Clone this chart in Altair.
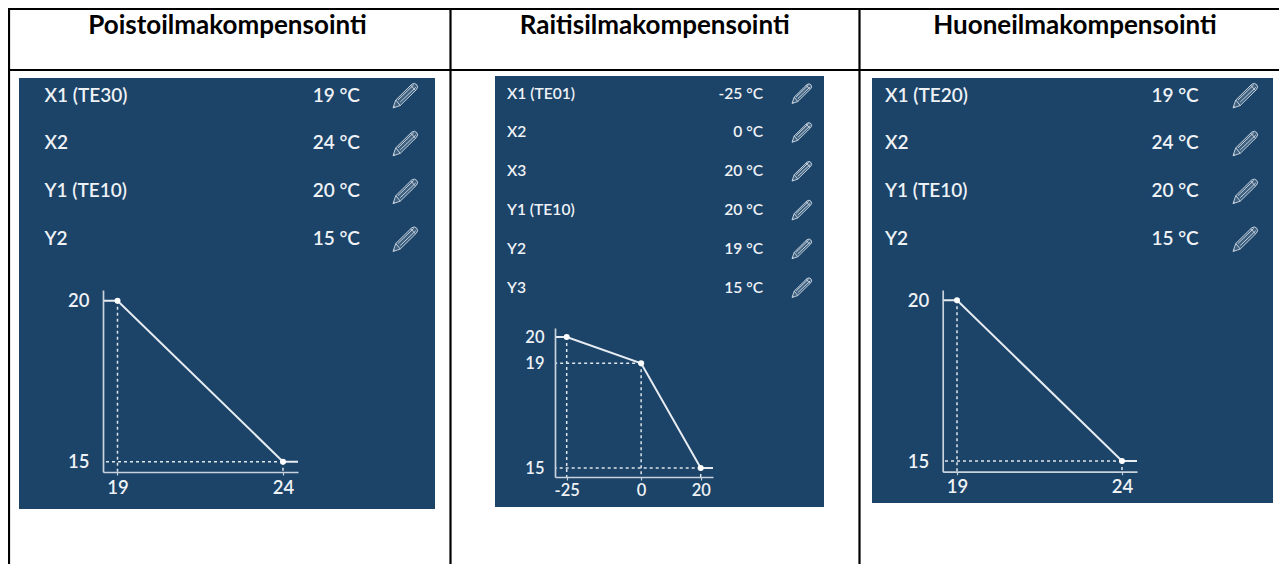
import altair as alt
import pandas as pd

# ---------- chart content ----------
titles = ["Poistoilmakompensointi", "Raitisilmakompensointi", "Huoneilmakompensointi"]

labels_1 = ["X1 (TE30)", "X2", "Y1 (TE10)", "Y2"]
values_1 = ["19 °C", "24 °C", "20 °C", "15 °C"]
curve_x_1 = [19, 24]
curve_y_1 = [20, 15]

labels_2 = ["X1 (TE01)", "X2", "X3", "Y1 (TE10)", "Y2", "Y3"]
values_2 = ["-25 °C", "0 °C", "20 °C", "20 °C", "19 °C", "15 °C"]
curve_x_2 = [-25, 0, 20]
curve_y_2 = [20, 19, 15]

labels_3 = ["X1 (TE20)", "X2", "Y1 (TE10)", "Y2"]
values_3 = ["19 °C", "24 °C", "20 °C", "15 °C"]
curve_x_3 = [19, 24]
curve_y_3 = [20, 15]

# ---------- layout (page pixels) ----------
M = 8
W, H = 1287, 574
NAVY = "#1c4368"
TEXT = "#eef2f6"
AXIS = "#c9d3dd"
FONT = "Lato"
PENCIL = ("M-1 1L-0.78 0.36L0.5 -0.9Q0.72 -1.06 0.9 -0.86Q1.06 -0.66 0.86 -0.46L-0.42 0.8Z"
          "M-0.78 0.36L-0.42 0.8M-0.95 0.85L-0.85 0.92"
          "M-0.6 0.36L0.66 -0.86M-0.42 0.52L0.82 -0.66M0.42 -0.82L0.78 -0.42")

panels = [
    dict(title=titles[0], tx=227.5, labels=labels_1, values=values_1, cx=curve_x_1, cy=curve_y_1,
         box=(19, 435, 78, 509), row_x=44.5, val_x=360, pen_x=405.5, rows=(95.5, 239), pen=25, fs=19,
         left=103, right=298, top=290, bottom=472, x_px=(117.5, 283), y_px=(300.7, 461.7),
         tick_fs=18.5, lab_pad=14, x_pad=3),
    dict(title=titles[1], tx=654.7, labels=labels_2, values=values_2, cx=curve_x_2, cy=curve_y_2,
         box=(495, 824, 76, 507), row_x=507, val_x=763, pen_x=802, rows=(93.5, 287.5), pen=20, fs=15.6,
         left=555, right=713, top=328, bottom=477, x_px=(566.7, 700.7), y_px=(337, 468),
         tick_fs=16.5, lab_pad=11, x_pad=2),
    dict(title=titles[2], tx=1075, labels=labels_3, values=values_3, cx=curve_x_3, cy=curve_y_3,
         box=(872, 1273, 78, 503), row_x=885, val_x=1198.7, pen_x=1245.5, rows=(95.5, 239), pen=25, fs=19,
         left=942.7, right=1137, top=290, bottom=471.7, x_px=(957, 1122), y_px=(300.3, 461),
         tick_fs=18.5, lab_pad=14, x_pad=3),
]

PW, PH = W - 2 * M, H - 2 * M - 2
dummy = pd.DataFrame({"k": [0]})
layers = []

# table grid
for xa in (M + 1, 450.5, 859.5):
    layers.append(alt.Chart(dummy).mark_rule(color="#000000", strokeWidth=2.2).encode(
        x=alt.value(xa - M), y=alt.value(0), y2=alt.value(PH)))
for ya in (M + 1, 70):
    layers.append(alt.Chart(dummy).mark_rule(color="#000000", strokeWidth=2.2).encode(
        y=alt.value(ya - M), x=alt.value(0), x2=alt.value(PW)))

for p in panels:
    l, r, t, b = p["box"]
    layers.append(alt.Chart(dummy).mark_rect(color=NAVY, opacity=1).encode(
        x=alt.value(l - M), x2=alt.value(r - M), y=alt.value(t - M), y2=alt.value(b - M)))

    layers.append(alt.Chart(pd.DataFrame({"t": [p["title"]]})).mark_text(
        font=FONT, fontSize=26, fontWeight="bold", color="#000000", align="center", baseline="middle"
    ).encode(x=alt.value(p["tx"] - M), y=alt.value(25.5 - M), text="t:N"))

    rows = pd.DataFrame({"label": p["labels"], "value": p["values"]})
    row_scale = alt.Scale(type="point", domain=p["labels"], padding=0,
                          range=[p["rows"][0] - M, p["rows"][1] - M])
    pen_scale = alt.Scale(type="point", domain=p["labels"], padding=0,
                          range=[p["rows"][0] - M, p["rows"][1] - M])
    text_mark = dict(font=FONT, fontSize=p["fs"], fontWeight=600, color=TEXT, baseline="middle")
    layers.append(alt.Chart(rows).mark_text(align="left", **text_mark).encode(
        x=alt.value(p["row_x"] - M), y=alt.Y("label:N", scale=row_scale, axis=None), text="label:N"))
    layers.append(alt.Chart(rows).mark_text(align="right", **text_mark).encode(
        x=alt.value(p["val_x"] - M), y=alt.Y("label:N", scale=row_scale, axis=None), text="value:N"))
    layers.append(alt.Chart(rows).mark_point(
        shape=PENCIL, size=p["pen"] ** 2, filled=True, fill="#7f97ad", fillOpacity=0.35,
        stroke="#d3dde6", strokeWidth=0.9, opacity=1
    ).encode(x=alt.value(p["pen_x"] - M), y=alt.Y("label:N", scale=pen_scale, axis=None)))

    # scales of the little curve chart: the axis lines span the full scale range
    cx, cy = p["cx"], p["cy"]
    x0, x1 = p["x_px"]
    y0, y1 = p["y_px"]
    xk = (cx[-1] - cx[0]) / (x1 - x0)
    yk = (cy[0] - cy[-1]) / (y1 - y0)
    x_lo = cx[0] - (x0 - p["left"]) * xk
    x_hi = cx[-1] + (p["right"] - x1) * xk
    y_hi = cy[0] + (y0 - p["top"]) * yk
    y_lo = cy[-1] - (p["bottom"] - y1) * yk
    xs = alt.Scale(domain=[x_lo, x_hi], range=[p["left"] - M, p["right"] - M], nice=False, zero=False)
    ys = alt.Scale(domain=[y_lo, y_hi], range=[p["bottom"] - M, p["top"] - M], nice=False, zero=False)

    guides_v = pd.DataFrame({"x": cx, "y": cy, "y0": [y_lo] * len(cx)})
    guides_h = pd.DataFrame({"x": cx[1:], "y": cy[1:], "x0": [x_lo] * (len(cx) - 1)})
    guide = dict(color="#dfe6ec", strokeWidth=1.5, strokeDash=[3, 3])
    layers.append(alt.Chart(guides_v).mark_rule(**guide).encode(
        x=alt.X("x:Q", scale=xs, axis=None), y=alt.Y("y:Q", scale=ys, axis=None), y2="y0:Q"))
    layers.append(alt.Chart(guides_h).mark_rule(**guide).encode(
        x=alt.X("x:Q", scale=xs, axis=None), x2="x0:Q", y=alt.Y("y:Q", scale=ys, axis=None)))

    curve = pd.DataFrame({"x": [x_lo] + cx + [x_hi], "y": [cy[0]] + cy + [cy[-1]], "o": range(len(cx) + 2)})
    layers.append(alt.Chart(curve).mark_line(color="#e6ecf1", strokeWidth=2).encode(
        x=alt.X("x:Q", scale=xs, axis=alt.Axis(
            values=cx, title=None, grid=False, zindex=1, orient="bottom", offset=p["bottom"] - M - PH,
            domainColor=AXIS, domainWidth=1.7, tickColor=AXIS, tickSize=3, tickWidth=1.2,
            labelColor=TEXT, labelFont=FONT, labelFontSize=p["tick_fs"], labelFontWeight=600,
            labelPadding=p["x_pad"], labelFlush=False, labelOverlap=False,
            labelExpr="'' + datum.value")),
        y=alt.Y("y:Q", scale=ys, axis=alt.Axis(
            values=sorted(set(cy)), title=None, grid=False, zindex=1, orient="left", offset=-(p["left"] - M),
            domainColor=AXIS, domainWidth=1.7, ticks=False, tickSize=0,
            labelColor=TEXT, labelFont=FONT, labelFontSize=p["tick_fs"], labelFontWeight=600,
            labelPadding=p["lab_pad"], labelFlush=False, labelOverlap=False,
            labelExpr="'' + datum.value")),
        order="o:Q"))
    layers.append(alt.Chart(pd.DataFrame({"x": cx, "y": cy})).mark_point(
        filled=True, color="#ffffff", size=36, opacity=1
    ).encode(x=alt.X("x:Q", scale=xs, axis=None), y=alt.Y("y:Q", scale=ys, axis=None)))

chart = alt.layer(*layers).resolve_scale(x="independent", y="independent").properties(
    width=PW, height=PH, padding=0, background="#ffffff",
    autosize=alt.AutoSizeParams(type="none"),
).configure_view(stroke=None)

chart.save("out.html", embed_options={"renderer": "svg", "actions": False})
